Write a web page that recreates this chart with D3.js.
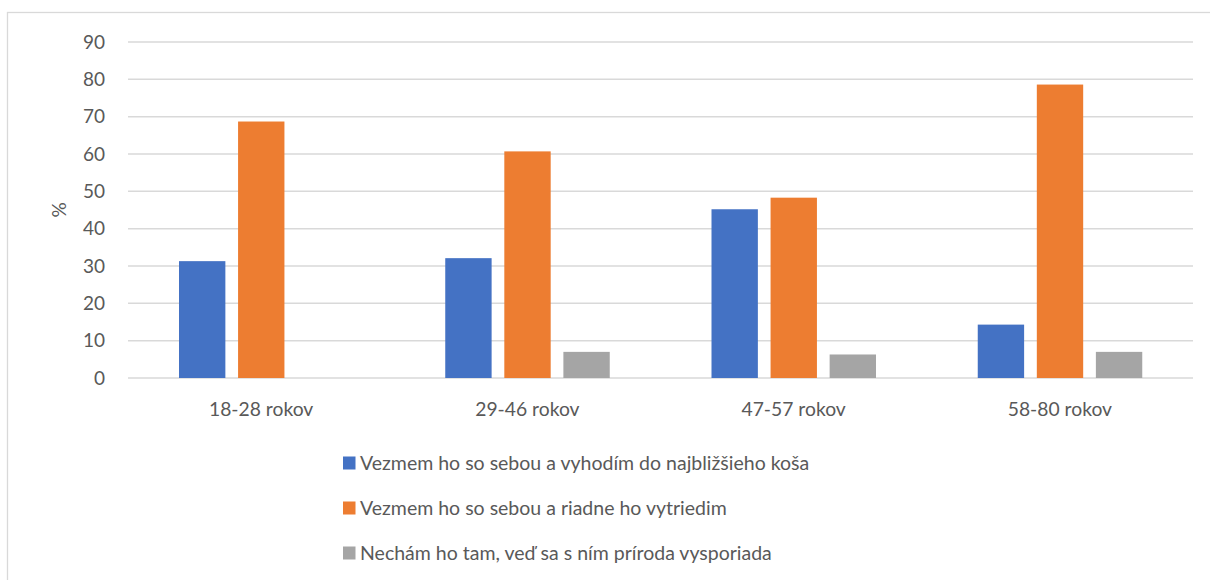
<!DOCTYPE html>
<meta charset="utf-8">
<style>
    body { margin: 0; background: #fff; }
    text { font-family: Lato, "Open Sans", sans-serif; fill: #595959; }
</style>
<body>
<script src="https://cdn.jsdelivr.net/npm/d3@7"></script>
<script>

    var categories = ['18-28 rokov', '29-46 rokov', '47-57 rokov', '58-80 rokov'];
    var seriesNames = [
        'Vezmem ho so sebou a vyhodím do najbližšieho koša',
        'Vezmem ho so sebou a riadne ho vytriedim',
        'Nechám ho tam, veď sa s ním príroda vysporiada'
    ];
    var throwAway = [31.3, 32.1, 45.2, 14.3];
    var sortIt = [68.7, 60.7, 48.3, 78.6];
    var leaveIt = [0, 7.0, 6.3, 7.0];
    var yTicks = [0, 10, 20, 30, 40, 50, 60, 70, 80, 90];

    var colors = ['#4472C4', '#ED7D31', '#A5A5A5'];
    var seriesValues = [throwAway, sortIt, leaveIt];

    var width = 1210, height = 580;
    var plot = {left: 128, right: 1193, top: 42, bottom: 378};

    var svg = d3.select('body').append('svg')
        .attr('width', width)
        .attr('height', height);

    // chart area border (only left and top visible in the crop)
    svg.append('rect')
        .attr('x', 7.5)
        .attr('y', 12.5)
        .attr('width', 1230)
        .attr('height', 600)
        .attr('fill', 'none')
        .attr('stroke', '#D9D9D9')
        .attr('stroke-width', 1.3);

    var x0 = d3.scaleBand()
        .domain(categories)
        .range([plot.left, plot.right]);

    var x1 = d3.scaleBand()
        .domain(d3.range(seriesNames.length))
        .range([51, 215.5])
        .paddingInner(0.215);

    var y = d3.scaleLinear()
        .domain([0, 90])
        .range([plot.bottom, plot.top]);

    // gridlines
    svg.append('g')
        .selectAll('line')
        .data(yTicks)
        .enter()
        .append('line')
        .attr('x1', plot.left)
        .attr('x2', plot.right)
        .attr('y1', function(d) { return y(d); })
        .attr('y2', function(d) { return y(d); })
        .attr('stroke', '#D9D9D9')
        .attr('stroke-width', 1.5);

    // y tick labels
    svg.append('g')
        .selectAll('text')
        .data(yTicks)
        .enter()
        .append('text')
        .attr('x', 105)
        .attr('y', function(d) { return y(d); })
        .attr('dy', '0.35em')
        .attr('text-anchor', 'end')
        .style('font-size', '19px')
        .text(function(d) { return d; });

    svg.append('text')
        .attr('transform', 'translate(66,' + ((plot.top + plot.bottom) / 2) + ') rotate(-90)')
        .attr('text-anchor', 'middle')
        .style('font-size', '19px')
        .text('%');

    // bars
    var groups = svg.append('g')
        .selectAll('g')
        .data(categories)
        .enter()
        .append('g')
        .attr('transform', function(d) { return 'translate(' + x0(d) + ',0)'; });

    groups.selectAll('rect')
        .data(function(d, i) {
            return seriesValues.map(function(vals, s) { return {s: s, v: vals[i]}; });
        })
        .enter()
        .filter(function(d) { return d.v > 0; })
        .append('rect')
        .attr('x', function(d) { return x1(d.s); })
        .attr('width', x1.bandwidth())
        .attr('y', function(d) { return y(d.v); })
        .attr('height', function(d) { return y(0) - y(d.v); })
        .attr('fill', function(d) { return colors[d.s]; });

    // category labels
    svg.append('g')
        .selectAll('text')
        .data(categories)
        .enter()
        .append('text')
        .attr('x', function(d) { return x0(d) + x0.bandwidth() / 2; })
        .attr('y', 416)
        .attr('text-anchor', 'middle')
        .style('font-size', '19.3px')
        .text(function(d) { return d; });

    // legend
    var legend = svg.append('g')
        .selectAll('g')
        .data(seriesNames)
        .enter()
        .append('g')
        .attr('transform', function(d, i) { return 'translate(343,' + (463 + i * 45) + ')'; });

    legend.append('rect')
        .attr('x', 0)
        .attr('y', -6.5)
        .attr('width', 12.5)
        .attr('height', 13)
        .attr('fill', function(d, i) { return colors[i]; });

    legend.append('text')
        .attr('x', 17)
        .attr('y', 0)
        .attr('dy', '0.35em')
        .style('font-size', '19.5px')
        .text(function(d) { return d; });

</script>
</body>
